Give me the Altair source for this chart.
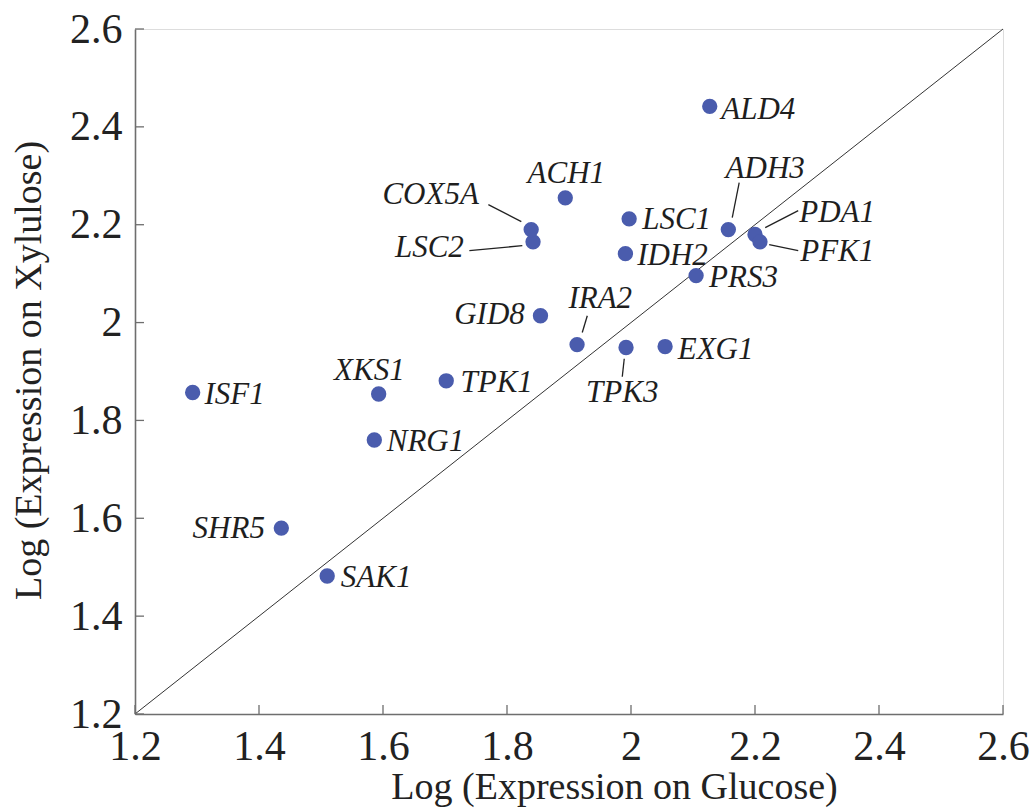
import altair as alt
import pandas as pd

# gene points (log expression on glucose vs xylulose)
genes = ["ISF1", "SHR5", "SAK1", "NRG1", "XKS1", "TPK1", "GID8", "IRA2", "TPK3", "EXG1",
         "PRS3", "IDH2", "LSC1", "LSC2", "COX5A", "ACH1", "ALD4", "ADH3", "PDA1", "PFK1"]
glucose = [1.293, 1.436, 1.510, 1.586, 1.593, 1.702, 1.854, 1.913, 1.992, 2.055,
           2.105, 1.991, 1.997, 1.842, 1.839, 1.894, 2.127, 2.157, 2.200, 2.208]
xylulose = [1.857, 1.580, 1.482, 1.760, 1.854, 1.881, 2.014, 1.955, 1.949, 1.951,
            2.096, 2.141, 2.212, 2.165, 2.190, 2.255, 2.442, 2.190, 2.180, 2.165]

# label anchors (data units) and alignment
label_x = [1.312, 1.4096, 1.532, 1.606, 1.578, 1.725, 1.8287, 1.9504, 1.9859, 2.0754,
           2.126, 2.010, 2.018, 1.7304, 1.7546, 1.8956, 2.1455, 2.2165, 2.2713, 2.2729]
label_y = [1.833, 1.559, 1.459, 1.737, 1.883, 1.8585, 1.9966, 2.0304, 1.8381, 1.925,
           2.0723, 2.1173, 2.1909, 2.1347, 2.2421, 2.286, 2.4159, 2.2952, 2.2052, 2.1255]
label_align = ["left", "right", "left", "left", "center", "left", "right", "center", "center", "left",
               "left", "left", "left", "right", "right", "center", "left", "center", "left", "left"]

# leader lines (data units)
leader_gene = ["COX5A", "LSC2", "IRA2", "ADH3", "PDA1", "PFK1", "TPK3"]
leader_x1 = [1.7699, 1.7393, 1.9295, 2.1745, 2.2697, 2.2229, 1.9891]
leader_y1 = [2.2410, 2.1469, 2.0140, 2.2860, 2.2288, 2.1592, 1.9260]
leader_x2 = [1.8231, 1.8247, 1.9214, 2.1633, 2.2165, 2.2697, 1.9859]
leader_y2 = [2.2063, 2.1572, 1.9796, 2.2144, 2.1940, 2.1469, 1.8892]

ticks = [1.2, 1.4, 1.6, 1.8, 2.0, 2.2, 2.4, 2.6]
diag = [1.2, 2.6]

pts = pd.DataFrame({"gene": genes, "x": glucose, "y": xylulose,
                    "lx": label_x, "ly": label_y, "align": label_align})
lead = pd.DataFrame({"gene": leader_gene, "x1": leader_x1, "y1": leader_y1,
                     "x2": leader_x2, "y2": leader_y2})
diag_df = pd.DataFrame({"x": diag, "y": diag})
tick_df = pd.DataFrame({"t": ticks})

W, H = 868, 685
FONT = "Liberation Serif"
AXC = "#6e6e6e"

xs = alt.Scale(domain=[1.2, 2.6], nice=False, zero=False)
ys = alt.Scale(domain=[1.2, 2.6], nice=False, zero=False)

xaxis = alt.Axis(values=ticks, format=".1~f", ticks=False, grid=False,
                 domainColor=AXC, domainWidth=1.6, labelFont=FONT, labelFontSize=42,
                 labelColor="#222222", labelPadding=12, labelFlush=False,
                 title="Log (Expression on Glucose)", titleFont=FONT, titleFontSize=38,
                 titleFontWeight="normal", titleColor="#222222",
                 titleX=479, titleY=84, titleBaseline="alphabetic", titleAlign="center")
yaxis = alt.Axis(values=ticks, format=".1~f", ticks=False, grid=False,
                 domainColor=AXC, domainWidth=1.6, labelFont=FONT, labelFontSize=42,
                 labelColor="#222222", labelPadding=13, labelFlush=False,
                 title="Log (Expression on Xylulose)", titleFont=FONT, titleFontSize=38,
                 titleFontWeight="normal", titleColor="#222222",
                 titleX=-95, titleY=341, titleAngle=-90, titleBaseline="alphabetic",
                 titleAlign="center")

line = alt.Chart(diag_df).mark_line(color="#333333", strokeWidth=1).encode(
    x=alt.X("x:Q", scale=xs, axis=xaxis),
    y=alt.Y("y:Q", scale=ys, axis=yaxis),
)

xt = alt.Chart(tick_df).mark_rule(color=AXC, strokeWidth=1.3).encode(
    x=alt.X("t:Q", scale=xs), y=alt.value(H), y2=alt.value(H - 9))
yt = alt.Chart(tick_df).mark_rule(color=AXC, strokeWidth=1.3).encode(
    y=alt.Y("t:Q", scale=ys), x=alt.value(0), x2=alt.value(9))

leaders = alt.Chart(lead).mark_rule(color="#222222", strokeWidth=1.3).encode(
    x=alt.X("x1:Q", scale=xs), y=alt.Y("y1:Q", scale=ys),
    x2="x2:Q", y2="y2:Q")

dots = alt.Chart(pts).mark_circle(size=235, color="#4a5cad", opacity=1).encode(
    x=alt.X("x:Q", scale=xs), y=alt.Y("y:Q", scale=ys))

def labels(al):
    return alt.Chart(pts).transform_filter(alt.datum.align == al).mark_text(
        align=al, baseline="alphabetic", font=FONT, fontSize=31, fontStyle="italic",
        color="#1e1e1e").encode(
        x=alt.X("lx:Q", scale=xs), y=alt.Y("ly:Q", scale=ys), text="gene:N")

chart = alt.layer(line, xt, yt, leaders, dots, labels("left"), labels("right"),
                  labels("center")).properties(
    width=W, height=H,
    padding={"left": 135, "top": 29, "right": 33, "bottom": 97},
    autosize="none",
).configure_view(stroke=None).configure(background="white")

chart.save("out.html", embed_options={"renderer": "svg", "actions": False})
